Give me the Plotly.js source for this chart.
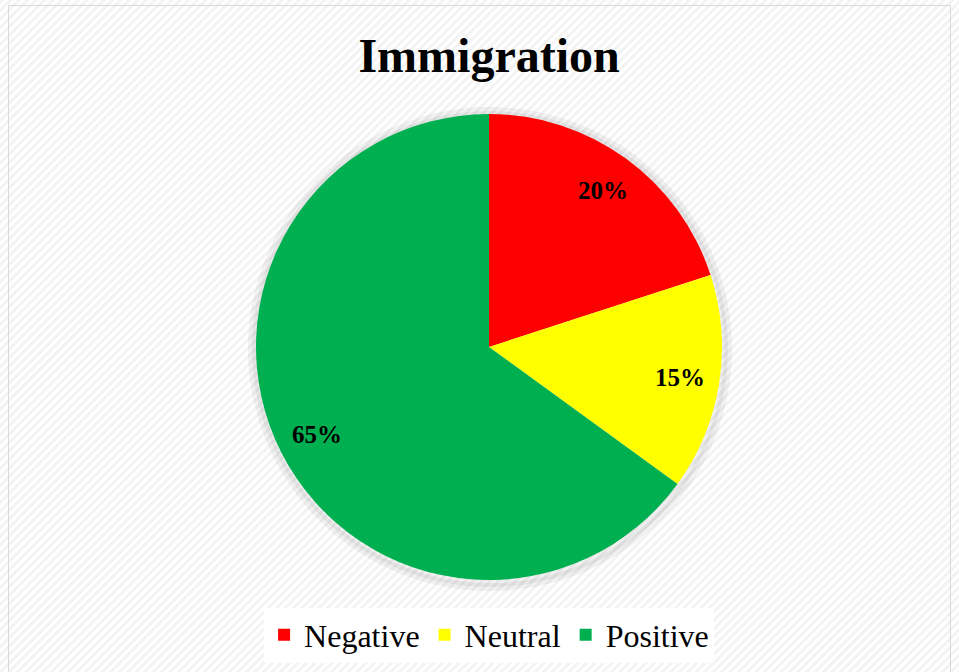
<!DOCTYPE html>
<html><head><meta charset="utf-8">
<script src="https://cdn.plot.ly/plotly-3.0.1.min.js"></script>
<style>html,body{margin:0;padding:0;background:#fff}</style>
</head><body>
<div id="chart" style="width:959px;height:672px"></div>
<script>
const categories = ["Negative", "Neutral", "Positive"];
const values = [20, 15, 65];
const colors = ["#FF0000", "#FFFF00", "#00B050"];
const chartTitle = "Immigration";

const W = 959, H = 672;
const cx = 489, cy = 347, r = 233;
const labelRadius = 0.83;

const stripeSvg = "<svg xmlns='http://www.w3.org/2000/svg' width='" + W + "' height='" + H + "'>" +
  "<defs><pattern id='p' width='6' height='6' patternUnits='userSpaceOnUse' patternTransform='rotate(45)'>" +
  "<rect width='6' height='6' fill='#ffffff'/><rect width='3' height='6' fill='#f3f3f3'/></pattern></defs>" +
  "<rect width='" + W + "' height='" + H + "' fill='url(#p)'/></svg>";

// label annotations placed at each slice's mid-angle (clockwise from top)
const total = values.reduce((a, b) => a + b, 0);
let cum = 0;
const annotations = values.map((v, i) => {
  const mid = (cum + v / 2) / total * 2 * Math.PI;
  cum += v;
  const px = cx + Math.sin(mid) * r * labelRadius;
  const py = cy - Math.cos(mid) * r * labelRadius;
  return {
    xref: "paper", yref: "paper", x: px / W, y: 1 - py / H,
    xanchor: "center", yanchor: "middle", showarrow: false,
    text: "<b>" + Math.round(v / total * 100) + "%</b>",
    font: {family: "Liberation Serif", size: 25, color: "#000000"}
  };
});

const data = [{
  type: "pie",
  labels: categories,
  values: values,
  sort: false,
  direction: "clockwise",
  rotation: 0,
  marker: {colors: colors, line: {width: 0}},
  textinfo: "none",
  hoverinfo: "none",
  domain: {x: [(cx - r) / W, (cx + r) / W], y: [(H - cy - r) / H, (H - cy + r) / H]}
}];

const layout = {
  width: W, height: H,
  margin: {l: 0, r: 0, t: 0, b: 0},
  paper_bgcolor: "#ffffff",
  title: {text: "<b>" + chartTitle + "</b>", x: 0.51, xanchor: "center", y: 1 - 55 / H, yanchor: "middle",
          font: {family: "Liberation Serif", size: 48, color: "#000000"}},
  showlegend: true,
  legend: {orientation: "h", x: 0.51, xanchor: "center", y: 1 - 635 / H, yanchor: "middle",
           font: {family: "Liberation Serif", size: 32, color: "#000000"},
           bgcolor: "#ffffff", itemwidth: 30, traceorder: "normal"},
  annotations: annotations,
  images: [{source: "data:image/svg+xml;charset=utf-8," + encodeURIComponent(stripeSvg),
            xref: "paper", yref: "paper", x: 0, y: 1, sizex: 1, sizey: 1,
            sizing: "stretch", xanchor: "left", yanchor: "top", layer: "below"}],
  shapes: [
    {type: "rect", xref: "paper", yref: "paper", x0: 8.5 / W, x1: 950.5 / W, y0: -0.01, y1: 1 - 5.5 / H,
     line: {color: "#d9d9d9", width: 1}, fillcolor: "rgba(0,0,0,0)", layer: "below"},
    {type: "circle", xref: "paper", yref: "paper", x0: (cx - r - 4) / W, x1: (cx + r + 6) / W,
     y0: (H - cy - r - 7) / H, y1: (H - cy + r + 3) / H,
     line: {color: "rgba(0,0,0,0.05)", width: 8}, fillcolor: "rgba(0,0,0,0.05)", layer: "below"}
  ]
};

Plotly.newPlot("chart", data, layout, {displayModeBar: false, staticPlot: true});
</script>
</body></html>
